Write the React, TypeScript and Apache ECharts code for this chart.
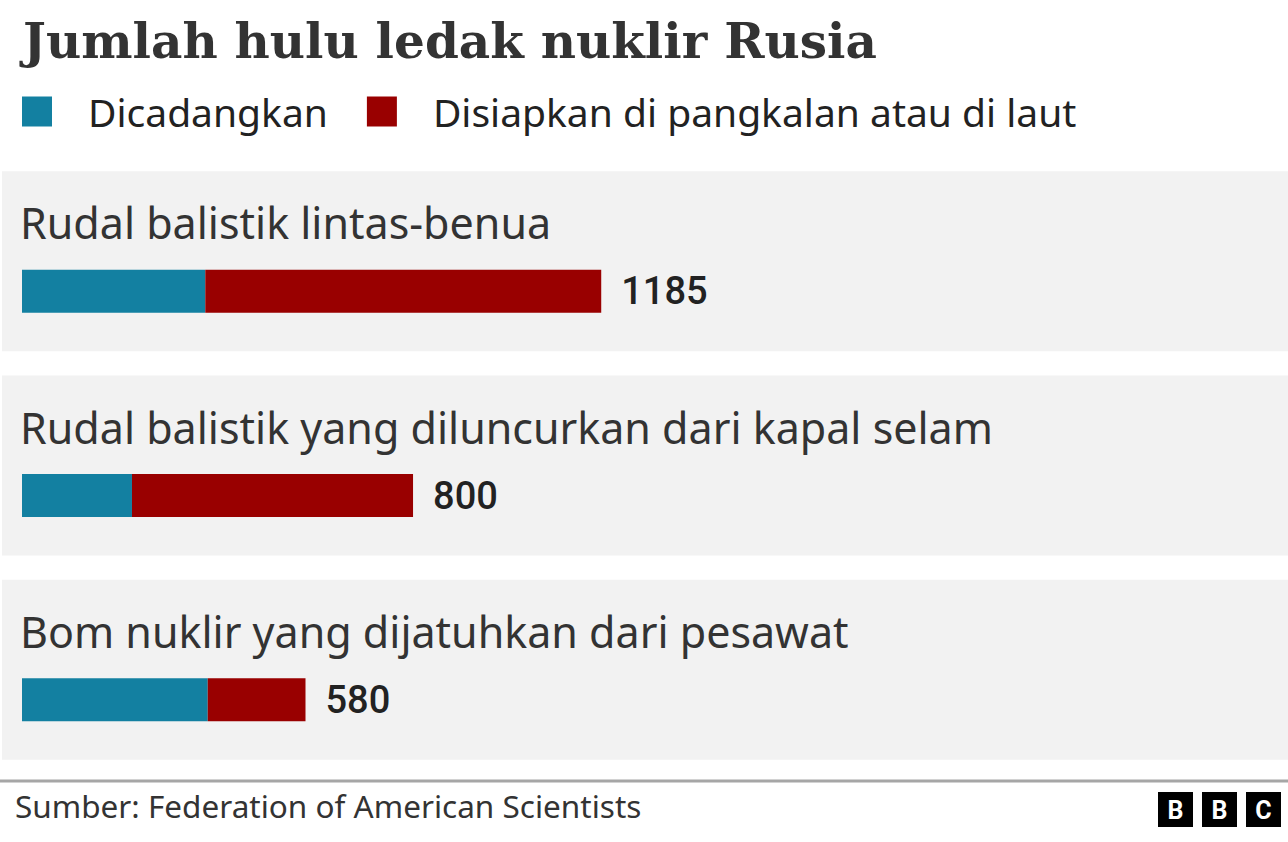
import React, { useEffect, useRef } from "react";
import * as echarts from "echarts";

const categories = [
  "Rudal balistik lintas-benua",
  "Rudal balistik yang diluncurkan dari kapal selam",
  "Bom nuklir yang dijatuhkan dari pesawat",
];
const seriesNames = ["Dicadangkan", "Disiapkan di pangkalan atau di laut"];
const reserve = [375, 225, 380];
const deployed = [810, 575, 200];
const totals = [1185, 800, 580];

const titleText = "Jumlah hulu ledak nuklir Rusia";
const sourceText = "Sumber: Federation of American Scientists";

const SANS = "'Noto Sans'";
const NUM = "Roboto";

export default function App() {
  const ref = useRef<HTMLDivElement>(null);
  useEffect(() => {
    if (!ref.current) return;
    const chart = echarts.init(ref.current, null, { renderer: "svg" });
    const logo = ["B", "B", "C"].map((ch, i) => ({
      type: "group",
      left: 1158 + i * 44,
      top: 792,
      children: [
        { type: "rect", shape: { x: 0, y: 0, width: 35, height: 35 }, style: { fill: "#000" } },
        {
          type: "text",
          x: 17.5,
          y: 18.5,
          style: {
            text: ch,
            fill: "#fff",
            font: `bold 25px ${NUM}`,
            textAlign: "center",
            textVerticalAlign: "middle",
          },
        },
      ],
    }));
    chart.setOption({
      animation: false,
      backgroundColor: "#ffffff",
      title: {
        text: titleText,
        left: 18,
        top: 11,
        textStyle: {
          fontFamily: "DejaVu Serif",
          fontWeight: "bold",
          fontSize: 48.5,
          color: "#333333",
        },
      },
      legend: {
        data: seriesNames,
        left: 22,
        top: 92,
        icon: "rect",
        itemWidth: 30,
        itemHeight: 30,
        itemGap: 39,
        padding: 0,
        textStyle: {
          fontFamily: SANS,
          fontSize: 39,
          color: "#222222",
          padding: [0, 0, 0, 31],
        },
      },
      grid: { left: 22, right: 44, top: 189, height: 613, containLabel: false },
      xAxis: { type: "value", min: 0, max: 2500, show: false },
      yAxis: {
        type: "category",
        data: categories,
        inverse: true,
        show: false,
      },
      graphic: [
        {
          type: "line",
          shape: { x1: 0, y1: 781, x2: 1288, y2: 781 },
          style: { stroke: "#a6a6a6", lineWidth: 3 },
        },
        {
          type: "text",
          left: 15,
          top: 789,
          style: { text: sourceText, font: `31.5px ${SANS}`, fill: "#333333" },
        },
        ...logo,
      ],
      series: [
        {
          type: "custom",
          name: "panel",
          silent: true,
          z: 0,
          encode: { x: 0, y: 1 },
          data: categories.map((_, i) => [0, i]),
          renderItem: (params: any, api: any) => {
            const c = api.coord([0, api.value(1)]);
            return {
              type: "rect",
              shape: { x: 2, y: c[1] - 120, width: api.getWidth() - 2, height: 180 },
              style: { fill: "#f2f2f2" },
            };
          },
        },
        {
          type: "bar",
          name: seriesNames[0],
          stack: "total",
          barWidth: 43,
          z: 2,
          itemStyle: { color: "#1380A1" },
          data: reserve,
          label: {
            show: true,
            position: [-2, -47],
            verticalAlign: "middle",
            align: "left",
            formatter: (p: any) => categories[p.dataIndex],
            fontFamily: SANS,
            fontSize: 43,
            color: "#333333",
          },
        },
        {
          type: "bar",
          name: seriesNames[1],
          stack: "total",
          barWidth: 43,
          z: 2,
          itemStyle: { color: "#990000" },
          data: deployed,
          label: {
            show: true,
            position: "right",
            distance: 20,
            formatter: (p: any) => String(totals[p.dataIndex]),
            fontFamily: NUM,
            fontSize: 38,
            fontWeight: 500,
            color: "#222222",
          },
        },
      ],
    });
    return () => chart.dispose();
  }, []);
  return (
    <div
      ref={ref}
      style={{ position: "fixed", left: 0, top: 0, width: 1288, height: 842 }}
    />
  );
}
